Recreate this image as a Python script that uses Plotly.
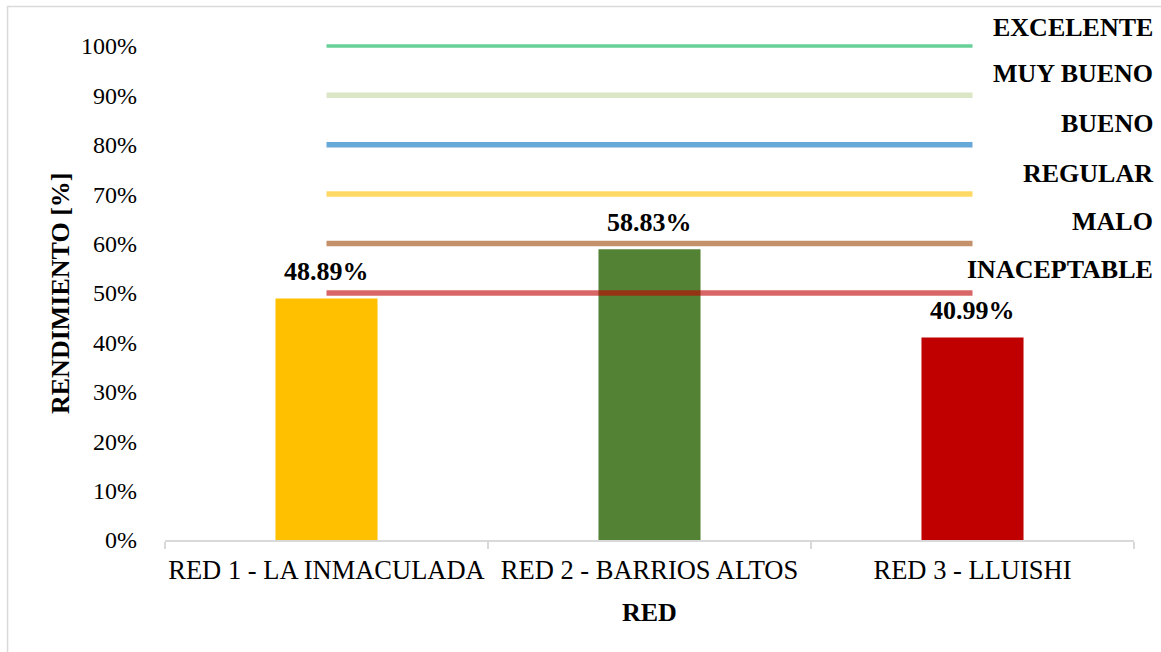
import plotly.graph_objects as go

# Network performance per distribution network
redes = ["RED 1 - LA INMACULADA", "RED 2 - BARRIOS ALTOS", "RED 3 - LLUISHI"]
rendimiento = [0.4889, 0.5883, 0.4099]
colores_barras = ["#FFC000", "#548235", "#C00000"]

# Performance classification thresholds
niveles = ["EXCELENTE", "MUY BUENO", "BUENO", "REGULAR", "MALO", "INACEPTABLE"]
umbrales = [1.00, 0.90, 0.80, 0.70, 0.60, 0.50]
colores_niveles = [
    "rgba(0,176,80,0.6)",
    "rgba(193,213,160,0.6)",
    "rgba(0,112,192,0.6)",
    "rgba(255,192,0,0.6)",
    "rgba(157,72,7,0.6)",
    "rgba(192,0,0,0.6)",
]
grosor_niveles = [3.5, 5.5, 5.5, 5.5, 5.5, 5.5]
desfase_etiquetas = [18, 22, 21, 21, 22, 23]

tick_vals = [i / 10 for i in range(11)]
tick_text = [f"{i * 10}%" for i in range(11)]

FONT = "Liberation Serif, Times New Roman, serif"

fig = go.Figure()

fig.add_trace(go.Bar(
    x=redes,
    y=rendimiento,
    marker=dict(color=colores_barras, line=dict(width=0)),
    width=0.316,
    showlegend=False,
    hoverinfo="skip",
))

for nombre, valor, color, grosor in zip(niveles, umbrales, colores_niveles, grosor_niveles):
    fig.add_trace(go.Scatter(
        x=redes,
        y=[valor] * len(redes),
        mode="lines",
        line=dict(color=color, width=grosor),
        name=nombre,
        showlegend=False,
        hoverinfo="skip",
    ))

annotations = []
# value labels above each bar
for red, valor in zip(redes, rendimiento):
    annotations.append(dict(
        x=red, y=valor, xref="x", yref="y",
        text=f"{valor * 100:.2f}%",
        showarrow=False, yanchor="bottom", yshift=10,
        font=dict(family=FONT, size=26, color="black", weight="bold"),
    ))
# threshold level labels at the right
for nombre, valor, desfase in zip(niveles, umbrales, desfase_etiquetas):
    annotations.append(dict(
        x=1.0217, y=valor, xref="paper", yref="y",
        text=nombre, showarrow=False,
        xanchor="right", yanchor="middle", yshift=desfase,
        font=dict(family=FONT, size=26, color="black", weight="bold"),
    ))
# axis titles
annotations.append(dict(
    x=-0.1084, y=0.49, xref="paper", yref="paper",
    text="RENDIMIENTO [%]", textangle=-90, showarrow=False,
    xanchor="center", yanchor="middle",
    font=dict(family=FONT, size=26, color="black", weight="bold"),
))
annotations.append(dict(
    x=0.5, y=-0.143, xref="paper", yref="paper",
    text="RED", showarrow=False,
    xanchor="center", yanchor="middle",
    font=dict(family=FONT, size=26, color="black", weight="bold"),
))

fig.update_layout(
    width=1161, height=652,
    margin=dict(l=165, r=27, t=36, b=112),
    paper_bgcolor="white", plot_bgcolor="white",
    font=dict(family=FONT, color="black"),
    annotations=annotations,
    bargap=0.684,
    shapes=[dict(
        type="rect", xref="paper", yref="paper",
        x0=-0.1625, x1=1.04, y0=-0.25, y1=1.0585,
        line=dict(color="#D9D9D9", width=1.5),
        fillcolor="rgba(0,0,0,0)", layer="below",
    )],
)

fig.update_xaxes(
    showline=True, linecolor="#D9D9D9", linewidth=2,
    ticks="outside", tickson="boundaries", ticklen=7, tickcolor="#D9D9D9", tickwidth=2,
    tickfont=dict(family=FONT, size=26.5, color="black"),
    tickangle=0, automargin=False,
    ticklabelstandoff=5,
    showgrid=False, zeroline=False,
)
fig.update_yaxes(
    range=[0, 1.02],
    tickvals=tick_vals, ticktext=tick_text,
    tickfont=dict(family=FONT, size=24, color="black"),
    showgrid=False, zeroline=False, showline=False,
    ticks="", ticklabelstandoff=27, automargin=False,
)

fig.write_html("out.html")
